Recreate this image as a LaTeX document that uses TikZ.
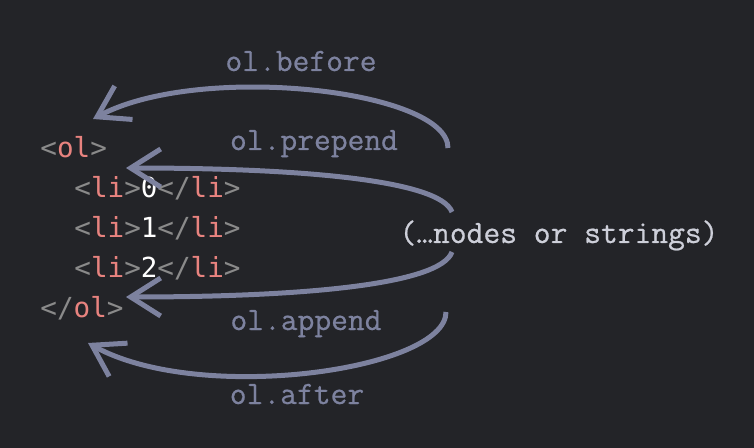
\documentclass[tikz,border=0pt]{standalone}
\usepackage{fontspec}
\usetikzlibrary{arrows.meta,positioning}
\newfontfamily\codefont{DejaVu Sans Mono}
\newfontfamily\lblfont[FakeBold=0.6]{Latin Modern Mono}
\definecolor{bgdark}{HTML}{232428}
\definecolor{arrowgray}{HTML}{7D829F}
\definecolor{tagred}{HTML}{E8837F}
\definecolor{brgray}{HTML}{8A8A8A}
\definecolor{lightgray}{HTML}{CDCFD9}
\newcommand{\Tg}[1]{\textcolor{tagred}{#1}}
\newcommand{\Br}[1]{\textcolor{brgray}{#1}}
\newcommand{\Vl}[1]{\textcolor{white}{#1}}

\begin{document}
\begin{tikzpicture}[x=0.5pt,y=-0.5pt,
  lbl/.style={text=arrowgray,font=\fontsize{16.3}{18}\selectfont\lblfont,anchor=base,inner sep=0pt},
  code/.style={font=\fontsize{13.8}{16}\selectfont\codefont,anchor=base west,inner sep=0pt},
  move/.style={draw=arrowgray,line width=2.5pt,-{Straight Barb[length=15pt,width=19pt]}}]
\fill[bgdark] (0,0) rectangle (754,448);
\useasboundingbox (0,0) rectangle (754,448);
% the list
\node (olopen) [code] at (40,158) {\Br{<}\Tg{ol}\Br{>}};
\node (li0) [code] at (74,198) {\Br{<}\Tg{li}\Br{>}\Vl{0}\Br{</}\Tg{li}\Br{>}};
\node (li1) [code] at (74,238) {\Br{<}\Tg{li}\Br{>}\Vl{1}\Br{</}\Tg{li}\Br{>}};
\node (li2) [code] at (74,278) {\Br{<}\Tg{li}\Br{>}\Vl{2}\Br{</}\Tg{li}\Br{>}};
\node (olclose) [code] at (40,318) {\Br{</}\Tg{ol}\Br{>}};
%
\node (items) [lbl,text=lightgray] at (559,243) {(…nodes or strings)};
%
\node (before) [lbl] at (301,71) {ol.before};
\node (prepend) [lbl] at (314,150) {ol.prepend};
\node (append) [lbl] at (306,330) {ol.append};
\node (after) [lbl] at (297,404) {ol.after};
%
\coordinate (s-before) at (448,148);
\coordinate (e-before) at (93,119);
\coordinate (s-prepend) at (452,212);
\coordinate (e-prepend) at (126,168);
\coordinate (s-append) at (452,252);
\coordinate (e-append) at (126,297);
\coordinate (s-after) at (446,312);
\coordinate (e-after) at (88,343);
%
\draw[move] (s-before) .. controls (448,90) and (200,62) .. (e-before);
\draw[move] (s-prepend) .. controls (440,180) and (300,168) .. (e-prepend);
\draw[move] (s-append) .. controls (440,285) and (300,297) .. (e-append);
\draw[move] (s-after) .. controls (446,370) and (200,405) .. (e-after);
\end{tikzpicture}
\end{document}
